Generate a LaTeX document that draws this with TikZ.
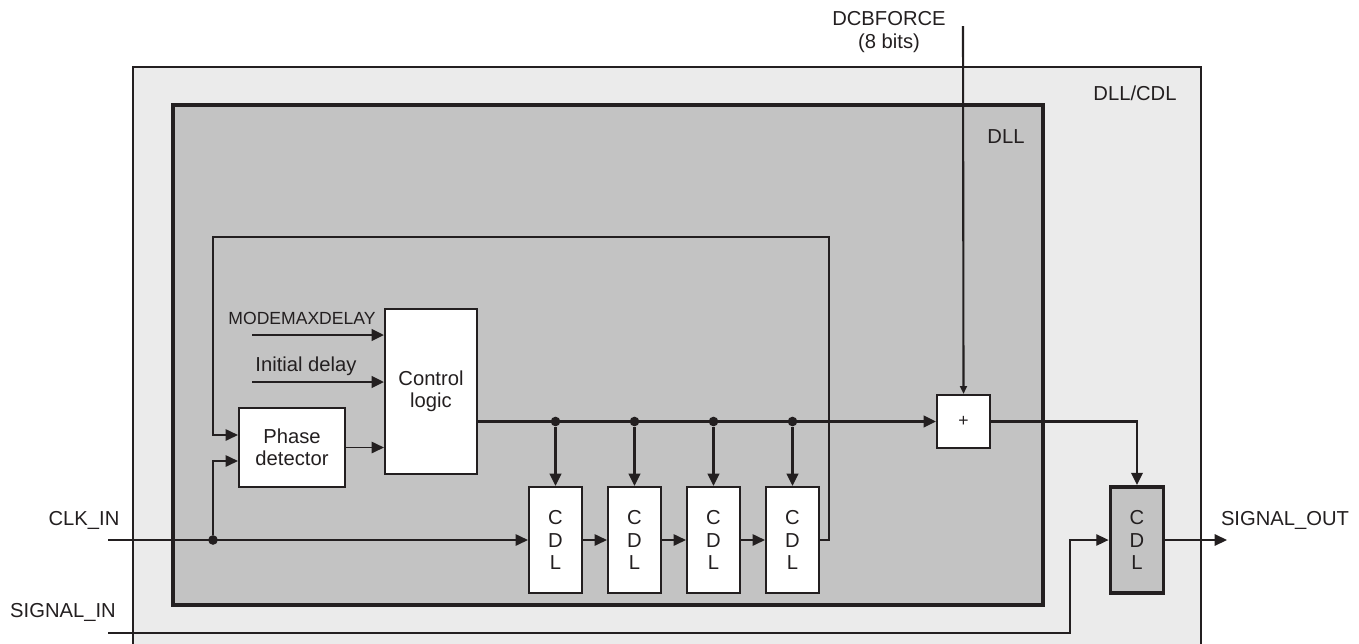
\documentclass[tikz,border=0pt]{standalone}
\usepackage{fontspec}
\setmainfont{Liberation Sans}
\usetikzlibrary{arrows.meta,calc}

\definecolor{linegray}{HTML}{231F20}
\definecolor{outerbg}{HTML}{EBEBEB}
\definecolor{dllbg}{HTML}{C3C3C3}

\tikzset{
  block/.style={draw=linegray, fill=white, line width=1.2pt, inner sep=0pt, align=center,
    text=linegray, font=\fontsize{11.5}{12.6}\selectfont},
  cdlbox/.style={block, minimum width=1.06cm, minimum height=2.12cm, font=\fontsize{11.5}{12.9}\selectfont},
  sig/.style={draw=linegray, line width=0.8pt, -{Triangle[length=7pt,width=6.5pt]}},
  bus/.style={sig, line width=1.5pt},
  tap/.style={circle, fill=linegray, inner sep=0pt, minimum size=5.5pt},
  lbl/.style={text=linegray, inner sep=0pt, font=\fontsize{11.5}{13}\selectfont}
}

\begin{document}
\begin{tikzpicture}[x=0.02cm, y=-0.02cm]
    \useasboundingbox (0,0) rectangle (1359,643);

    % DLL/CDL frame
    \fill[outerbg] (133,67) rectangle (1201,645);
    \draw[linegray, line width=1.4pt] (133,645) |- (1201,67) -- (1201,645);
    \node[lbl] (outerlbl) at (1135,93) {DLL/CDL};

    % DLL frame
    \filldraw[fill=dllbg, draw=linegray, line width=2.2pt] (173,105) rectangle (1043,605);
    \node[lbl] (dlllbl) at (1006,137) {DLL};

    % Blocks
    \node[block, minimum width=1.84cm, minimum height=3.3cm] (ctrl) at (431,391.5) {Control\\logic};
    \node[block, minimum width=2.12cm, minimum height=1.58cm] (pd) at (292,447.5) {Phase\\detector};
    \foreach \i/\x in {1/555.5, 2/634.5, 3/713.5, 4/792.5}
        \node[cdlbox] (cdl\i) at (\x,540) {C\\D\\L};
    \node[block, minimum width=1.06cm, minimum height=1.06cm, font=\fontsize{10}{10}\selectfont] (plus) at (963.5,421.5) {+};
    \node[cdlbox, fill=dllbg, line width=2.2pt] (cdlout) at (1137,540) {C\\D\\L};

    % Inputs of the control logic
    \coordinate (mmd) at (252,335);
    \coordinate (idl) at (252,382);
    \node[lbl, font=\fontsize{10}{10}\selectfont] (mmdlbl) at (302,318) {MODEMAXDELAY};
    \node[lbl] (idllbl) at (306,366) {Initial delay};
    \draw[bus] (mmd) -- (mmd -| ctrl.west);
    \draw[bus] (idl) -- (idl -| ctrl.west);
    \draw[sig] (pd.east) -- (pd.east -| ctrl.west);

    % Delay code bus
    \foreach \i in {1,...,4}
        \node[tap] (tap\i) at (cdl\i |- plus.west) {};
    \draw[bus] (ctrl.east |- plus.west) -- (plus.west);
    \foreach \i in {1,...,4}
        \draw[bus] (tap\i) -- (cdl\i.north);

    % CDL chain
    \foreach \i/\j in {1/2, 2/3, 3/4}
        \draw[sig] (cdl\i.east) -- (cdl\j.west);

    % CLK_IN
    \coordinate (clkin) at (108,540);
    \node[lbl] (clklbl) at (84,520) {CLK\_IN};
    \node[tap] (clkdot) at (213,540) {};
    \draw[sig] (clkin) -- (cdl1.west);
    \draw[sig] (clkdot) |- ($(pd.west)+(0,13.5)$);

    % Feedback to the phase detector
    \coordinate (fbright) at (829,237);
    \coordinate (fbleft) at (213,237);
    \draw[sig] (cdl4.east) -| (fbright) -- (fbleft) |- ($(pd.west)+(0,-12.5)$);

    % DCBFORCE
    \coordinate (dcb) at (963,26);
    \node[lbl, align=center] (dcblbl) at (889,32) {DCBFORCE\\(8 bits)};
    \draw[sig, line width=1.2pt, -{Triangle[length=4.5pt,width=4pt]}] (dcb) -- (plus.north);
    \draw[bus, line width=1.2pt] (plus.east) -| (cdlout.north);

    % SIGNAL_IN / SIGNAL_OUT
    \coordinate (sigin) at (108,633);
    \coordinate (sigbend) at (1070,633);
    \node[lbl] (siginlbl) at (63,612) {SIGNAL\_IN};
    \draw[sig] (sigin) -- (sigbend) |- (cdlout.west);
    \coordinate (sigout) at (1227,540);
    \node[lbl] (sigoutlbl) at (1285,520) {SIGNAL\_OUT};
    \draw[sig] (cdlout.east) -- (sigout);
\end{tikzpicture}
\end{document}
